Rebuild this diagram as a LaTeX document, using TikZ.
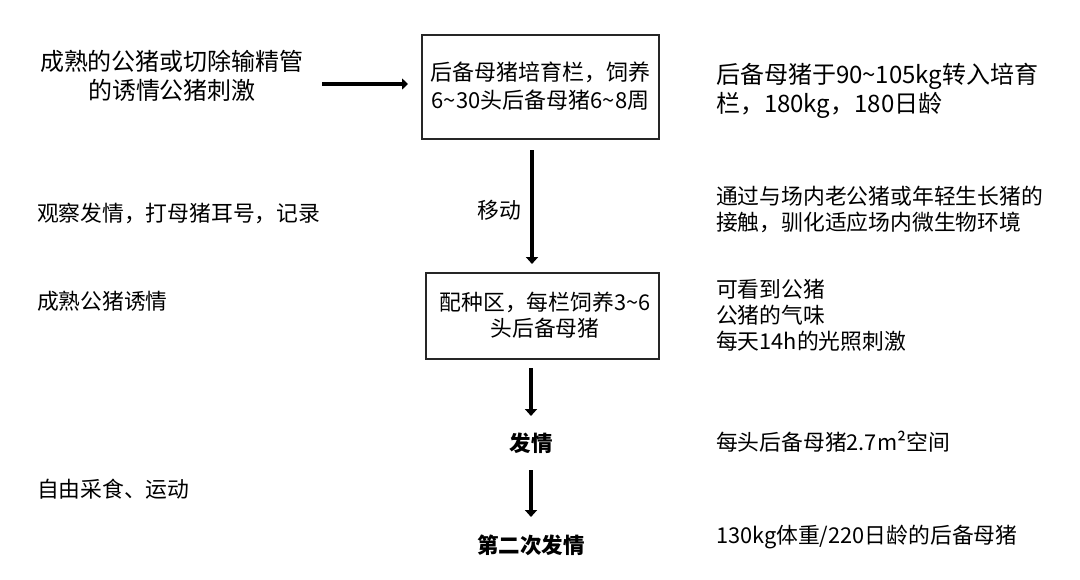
\documentclass[tikz,border=0pt]{standalone}
\usepackage{fontspec}
\setmainfont{Noto Sans CJK SC}
\usetikzlibrary{arrows.meta}
\begin{document}
\begin{tikzpicture}[x=1pt,y=-1pt,
  every node/.style={inner sep=0pt,outer sep=0pt,text=black},
  big/.style={font=\fontsize{24}{28.5}\selectfont},
  mid/.style={font=\fontsize{22}{28}\selectfont},
  small/.style={font=\fontsize{21.8}{26}\selectfont},
  smallb/.style={font=\fontsize{21.5}{26}\selectfont\bfseries},
  lefttxt/.style={anchor=west,align=left},
  box/.style={draw=black!85,line width=1.3pt,fill=white},
  flow/.style={line width=4pt,-{Triangle[length=7pt,width=12pt]}}]
\useasboundingbox (0,0) rectangle (1080,579);
% boxes
\node[box,minimum width=237,minimum height=104] (b1) at (540.5,87) {};
\node[mid,align=center] (t1) at (540.5,86) {后备母猪培育栏，饲养\\6\textasciitilde30头后备母猪6\textasciitilde8周};
\node[box,minimum width=233,minimum height=86] (b2) at (542.5,316) {};
\node[small,align=center] (t2) at (545,315) {配种区，每栏饲养3\textasciitilde6\\头后备母猪};
% center labels
\node[smallb] (e1) at (531,443) {发情};
\node[smallb] (e2) at (531,545) {第二次发情};
\node[small] (mv) at (499,210) {移动};
% left texts
\node[big,align=center] (l1) at (172,76) {成熟的公猪或切除输精管\\的诱情公猪刺激};
\node[small,lefttxt] (l2) at (37,213) {观察发情，打母猪耳号，记录};
\node[small,lefttxt] (l3) at (37,301) {成熟公猪诱情};
\node[small,lefttxt] (l4) at (37,489) {自由采食、运动};
% right texts
\node[big,lefttxt] (r1) at (716,91) {后备母猪于90\textasciitilde105kg转入培育\\栏，180kg，180日龄};
\node[small,lefttxt] (r2) at (716,209) {通过与场内老公猪或年轻生长猪的\\接触，驯化适应场内微生物环境};
\node[small,lefttxt] (r3) at (716,315) {可看到公猪\\公猪的气味\\每天14h的光照刺激};
\node[small,lefttxt] (r4) at (716,442) {每头后备母猪2.7m²空间};
\node[small,lefttxt] (r5) at (716,537) {130kg体重/220日龄的后备母猪};
% arrows
\coordinate (a0) at (322,84);
\draw[flow,shorten >=14pt,-{Triangle[length=6pt,width=11pt]}] (a0) -- (b1.west |- a0);
\coordinate (a1) at (532,150);
\draw[flow] (a1) -- (532,264);
\coordinate (a2) at (531,368);
\draw[flow] (a2) -- (531,416);
\coordinate (a3) at (531,470);
\draw[flow] (a3) -- (531,517);
\end{tikzpicture}
\end{document}
